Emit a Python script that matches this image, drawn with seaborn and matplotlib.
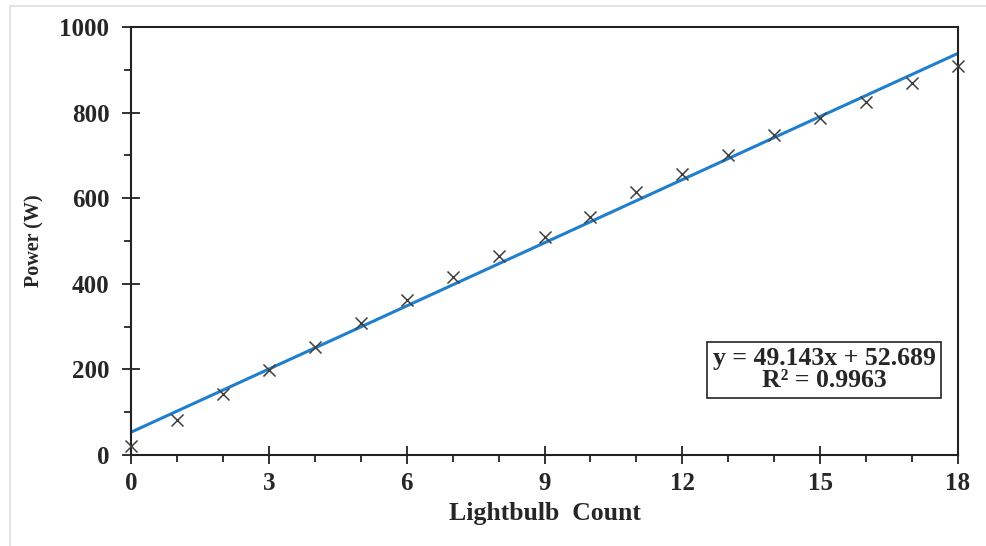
import numpy as np
import pandas as pd
import matplotlib
matplotlib.use("Agg")
import matplotlib.pyplot as plt
from matplotlib.lines import Line2D
from matplotlib.ticker import MultipleLocator
import seaborn as sns

bulbs = [0, 1, 2, 3, 4, 5, 6, 7, 8, 9, 10, 11, 12, 13, 14, 15, 16, 17, 18]
power = [20, 82, 142, 199, 252, 308, 362, 416, 465, 509, 556, 614, 657, 701, 748, 787, 825, 869, 909]
equation_text = "y = 49.143x + 52.689\nR² = 0.9963"
x_label = "Lightbulb  Count"
y_label = "Power (W)"

df = pd.DataFrame({"bulbs": bulbs, "power": power})

sns.set_style("white")
plt.rcParams["font.family"] = ["Liberation Serif", "DejaVu Serif"]

fig = plt.figure(figsize=(9.87, 5.46), dpi=100)
ax = fig.add_axes([131 / 987, 1 - 455 / 546, (958 - 131) / 987, (455 - 27) / 546])

sns.regplot(data=df, x="bulbs", y="power", ax=ax, scatter=False, ci=None,
            truncate=True, line_kws={"color": "#1f7fcc", "lw": 2.2})
sns.scatterplot(data=df, x="bulbs", y="power", ax=ax, marker="x", s=75,
                color="#404040", linewidth=1.1, zorder=3, clip_on=False)

ax.set_xlim(0, 18)
ax.set_ylim(0, 1000)
ax.xaxis.set_major_locator(MultipleLocator(3))
ax.xaxis.set_minor_locator(MultipleLocator(1))
ax.yaxis.set_major_locator(MultipleLocator(200))
ax.yaxis.set_minor_locator(MultipleLocator(100))
ax.tick_params(which="major", direction="inout", length=13, width=1.3, color="#222222",
               labelsize=18)
ax.tick_params(axis="y", which="major", pad=9)
ax.tick_params(axis="x", which="major", pad=6)
ax.tick_params(which="minor", direction="out", length=5, width=1.3, color="#222222")
ax.tick_params(axis="x", which="both", bottom=True)
ax.tick_params(axis="y", which="both", left=True)
for lab in ax.get_xticklabels() + ax.get_yticklabels():
    lab.set_fontweight("bold")
for sp in ax.spines.values():
    sp.set_visible(True)
    sp.set_color("#222222")
    sp.set_linewidth(1.5)

ax.set_xlabel(x_label, fontsize=18.5, fontweight="bold", labelpad=5)
ax.set_ylabel(y_label, fontsize=14.5, fontweight="bold", labelpad=11)

ax.text(0.838, 0.199, equation_text, transform=ax.transAxes, ha="center", va="center",
        fontsize=18.5, fontweight="bold", linespacing=0.95,
        bbox=dict(boxstyle="square,pad=0.22", fc="white", ec="#222222", lw=1.2))

fig.add_artist(Line2D([10 / 987, 10 / 987], [0, 1 - 6 / 546], transform=fig.transFigure,
                      color="#dddddd", lw=1.2))
fig.add_artist(Line2D([10 / 987, 1], [1 - 6 / 546, 1 - 6 / 546], transform=fig.transFigure,
                      color="#dddddd", lw=1.2))

fig.savefig("out.png", dpi=100, facecolor="white")
